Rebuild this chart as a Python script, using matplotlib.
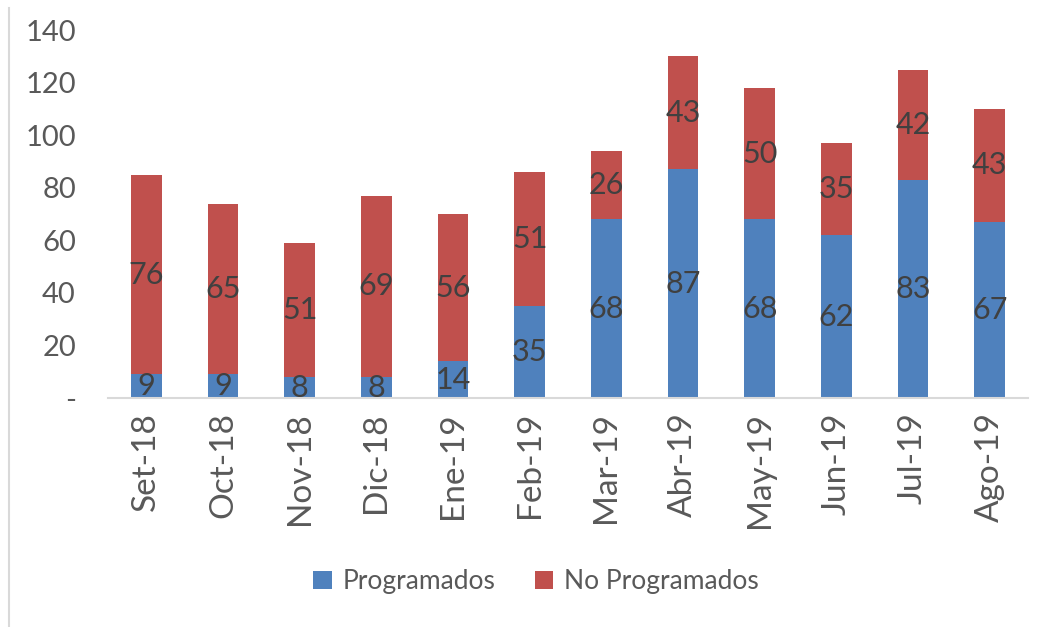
import matplotlib
matplotlib.use("Agg")
import matplotlib.pyplot as plt
from matplotlib.lines import Line2D
import numpy as np

months = ["Set-18", "Oct-18", "Nov-18", "Dic-18", "Ene-19", "Feb-19",
          "Mar-19", "Abr-19", "May-19", "Jun-19", "Jul-19", "Ago-19"]
programados = [9, 9, 8, 8, 14, 35, 68, 87, 68, 62, 83, 67]
no_programados = [76, 65, 51, 69, 56, 51, 26, 43, 50, 35, 42, 43]
yticks = [0, 20, 40, 60, 80, 100, 120, 140]
ytick_labels = ["-", "20", "40", "60", "80", "100", "120", "140"]

plt.rcParams['font.family'] = ['Lato', 'DejaVu Sans']

blue = "#4F81BD"
red = "#C0504D"
tick_color = "#595959"
label_color = "#404040"

fig = plt.figure(figsize=(10.47, 6.27), dpi=100)
ax = fig.add_axes([0.103, 0.365, 0.879, 0.587])

x = np.arange(len(months))
w = 0.4
b1 = ax.bar(x, programados, width=w, color=blue, label="Programados", zorder=2)
b2 = ax.bar(x, no_programados, width=w, bottom=programados, color=red,
            label="No Programados", zorder=2)

for xi, p, n in zip(x, programados, no_programados):
    ax.text(xi, p / 2, str(p), ha="center", va="center", fontsize=22,
            color=label_color, zorder=3)
    ax.text(xi, p + n / 2, str(n), ha="center", va="center", fontsize=22,
            color=label_color, zorder=3)

ax.set_xlim(-0.5, len(months) - 0.5)
ax.set_ylim(0, 140)
ax.set_yticks(yticks)
ax.set_yticklabels(ytick_labels)
ax.set_xticks(x)
ax.set_xticklabels(months, rotation=90)
ax.tick_params(axis="both", length=0, colors=tick_color)
ax.tick_params(axis="y", pad=23, labelsize=21)
ax.tick_params(axis="x", pad=10, labelsize=24)

for s in ["top", "right", "left"]:
    ax.spines[s].set_visible(False)
ax.spines["bottom"].set_color("#D9D9D9")
ax.spines["bottom"].set_linewidth(1.5)

leg = fig.legend(handles=[b1, b2], labels=["Programados", "No Programados"],
                 loc="center", bbox_to_anchor=(0.512, 0.072), ncol=2,
                 frameon=False, fontsize=19, handlelength=0.7, handleheight=0.7,
                 handletextpad=0.4, columnspacing=1.5)
for t in leg.get_texts():
    t.set_color(tick_color)

fig.add_artist(Line2D([0.0086, 0.0086], [0.0, 0.987], transform=fig.transFigure,
                      color="#D9D9D9", linewidth=1.5))

fig.savefig("out.png", dpi=100)
